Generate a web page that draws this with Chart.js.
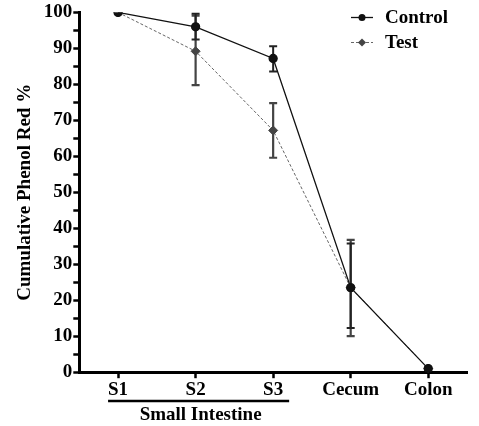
<!DOCTYPE html>
<html>
<head>
<meta charset="utf-8">
<script src="https://cdn.jsdelivr.net/npm/chart.js@4/dist/chart.umd.min.js"></script>
<style>
html,body{margin:0;padding:0;background:#fff;}
#wrap{width:479px;height:426px;position:relative;}
</style>
</head>
<body>
<div id="wrap"><canvas id="c" width="479" height="426"></canvas></div>
<script>
const categories = ['S1', 'S2', 'S3', 'Cecum', 'Colon'];
const controlMean = [100, 96.0, 87.2, 23.5, 1.0];
const controlLow  = [100, 92.5, 83.6, 12.3, 1.0];
const controlHigh = [100, 99.6, 90.6, 35.8, 1.0];
const testMean = [100, 89.2, 67.2, 23.5, 1.0];
const testLow  = [100, 79.8, 59.6, 10.0, 1.0];
const testHigh = [100, 99.1, 74.8, 36.8, 1.0];
const yMin = 0, yMax = 100, yMajorStep = 10, yMinorStep = 5;
const groupLabel = 'Small Intestine';
const groupCategories = ['S1', 'S2', 'S3'];

const FONT = '"Liberation Serif", "Times New Roman", serif';
const FS = 19;

const errorBars = {
  id: 'errorBars',
  beforeDatasetsDraw(chart) {
    const ctx = chart.ctx;
    const xs = chart.scales.x, ys = chart.scales.y;
    const sets = [
      {low: testLow, high: testHigh, color: '#444', w: 2.2},
      {low: controlLow, high: controlHigh, color: '#222', w: 2}
    ];
    ctx.save();
    sets.forEach(s => {
      ctx.strokeStyle = s.color;
      ctx.lineWidth = s.w;
      categories.forEach((c, i) => {
        if (s.low[i] === s.high[i]) return;
        const x = xs.getPixelForValue(i);
        const y1 = ys.getPixelForValue(s.low[i]);
        const y2 = ys.getPixelForValue(s.high[i]);
        ctx.beginPath();
        ctx.moveTo(x, y1); ctx.lineTo(x, y2);
        ctx.moveTo(x - 4, y1); ctx.lineTo(x + 4, y1);
        ctx.moveTo(x - 4, y2); ctx.lineTo(x + 4, y2);
        ctx.stroke();
      });
    });
    ctx.restore();
  }
};

const extras = {
  id: 'extras',
  afterDraw(chart) {
    const ctx = chart.ctx;
    const xs = chart.scales.x;
    ctx.save();
    // group bracket
    const i0 = categories.indexOf(groupCategories[0]);
    const i1 = categories.indexOf(groupCategories[groupCategories.length - 1]);
    const xa = xs.getPixelForValue(i0) - 10;
    const xb = xs.getPixelForValue(i1) + 16;
    ctx.strokeStyle = '#000';
    ctx.lineWidth = 2.5;
    ctx.beginPath();
    ctx.moveTo(xa, 401); ctx.lineTo(xb, 401);
    ctx.stroke();
    ctx.fillStyle = '#000';
    ctx.font = 'bold ' + FS + 'px ' + FONT;
    ctx.textAlign = 'center';
    ctx.textBaseline = 'middle';
    ctx.fillText(groupLabel, (xa + xb) / 2 + 2, 415);

    // legend
    const items = chart.data.datasets;
    items.forEach((d, k) => {
      const y = 17.5 + k * 25;
      ctx.strokeStyle = d.borderColor;
      ctx.lineWidth = d.borderWidth;
      ctx.setLineDash(d.borderDash || []);
      ctx.beginPath();
      ctx.moveTo(351, y); ctx.lineTo(373, y);
      ctx.stroke();
      ctx.setLineDash([]);
      ctx.fillStyle = d.pointBackgroundColor;
      ctx.beginPath();
      if (d.pointStyle === 'rectRot') {
        const r = 4;
        ctx.moveTo(362, y - r); ctx.lineTo(362 + r, y); ctx.lineTo(362, y + r); ctx.lineTo(362 - r, y);
        ctx.closePath();
      } else {
        ctx.arc(362, y, 3.5, 0, Math.PI * 2);
      }
      ctx.fill();
      ctx.fillStyle = '#000';
      ctx.font = 'bold ' + FS + 'px ' + FONT;
      ctx.textAlign = 'left';
      ctx.textBaseline = 'middle';
      ctx.fillText(d.label, 385, y + 1);
    });
    ctx.restore();
  }
};

new Chart(document.getElementById('c'), {
  type: 'line',
  data: {
    labels: categories,
    datasets: [
      {
        label: 'Control',
        data: controlMean,
        borderColor: '#111',
        borderWidth: 1.3,
        pointStyle: 'circle',
        pointRadius: 4,
        pointBackgroundColor: '#111',
        pointBorderColor: '#111',
        tension: 0
      },
      {
        label: 'Test',
        data: testMean,
        borderColor: '#666',
        borderWidth: 1,
        borderDash: [3, 2],
        pointStyle: 'rectRot',
        pointRadius: 4.5,
        pointBackgroundColor: '#444',
        pointBorderColor: '#444',
        tension: 0
      }
    ]
  },
  options: {
    responsive: false,
    animation: false,
    devicePixelRatio: 1,
    layout: {padding: {top: 5, right: 12, bottom: 25, left: 10}},
    plugins: {legend: {display: false}, tooltip: {enabled: false}},
    scales: {
      x: {
        type: 'category',
        offset: true,
        grid: {display: true, drawOnChartArea: false, drawTicks: true, tickLength: 6, tickWidth: 2.5, tickColor: '#000', offset: false},
        border: {display: true, width: 3, color: '#000'},
        ticks: {color: '#000', font: {family: FONT, size: FS, weight: 'bold'}, padding: 0, maxRotation: 0}
      },
      y: {
        min: yMin, max: yMax,
        grid: {display: true, drawOnChartArea: false, drawTicks: true, tickLength: 6, tickWidth: 2.5, tickColor: '#000'},
        border: {display: true, width: 3, color: '#000'},
        ticks: {
          stepSize: yMinorStep,
          autoSkip: false,
          color: '#000',
          font: {family: FONT, size: FS, weight: 'bold'},
          padding: 1,
          callback: (v) => (v % yMajorStep === 0 ? String(v) : '')
        },
        title: {display: true, text: 'Cumulative Phenol Red %', color: '#000', font: {family: FONT, size: FS, weight: 'bold'}, padding: {top: 4, bottom: 6}}
      }
    }
  },
  plugins: [errorBars, extras]
});
</script>
</body>
</html>
